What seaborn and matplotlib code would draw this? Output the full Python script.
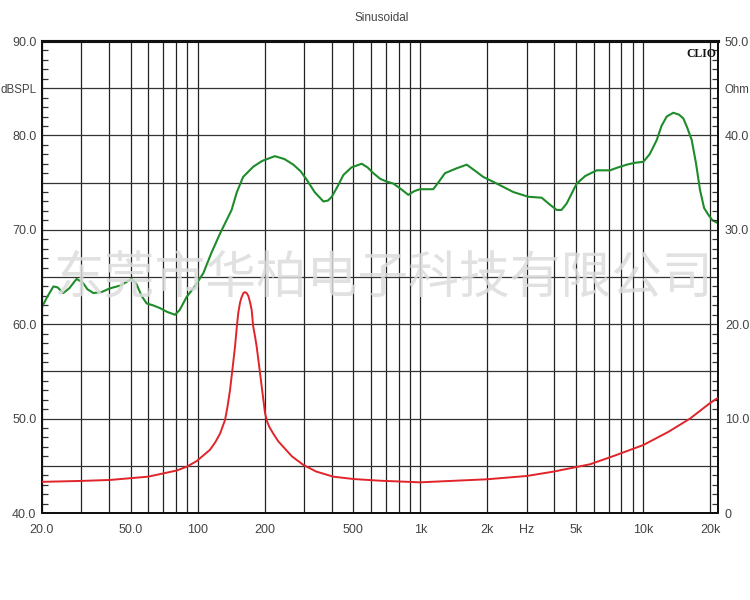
import numpy as np
import pandas as pd
import matplotlib
matplotlib.use("Agg")
import matplotlib.pyplot as plt
from matplotlib.ticker import FixedLocator, NullFormatter
import seaborn as sns

# ---- data ----
spl_freq = [20, 21, 22.5, 23.5, 24.9, 26.5, 28.6, 30.5, 32, 34, 37, 40.4, 45, 50.5, 53, 56,
            59, 63, 67.8, 73, 79.1, 83, 89.3, 97, 106, 115, 126, 142, 150, 160, 178, 195,
            222, 245, 269, 290, 309, 335, 367, 385, 400, 425, 451, 490, 545, 580, 615, 660,
            706, 756, 820, 883, 940, 996, 1143, 1220, 1290, 1450, 1614, 1750, 1916, 2202,
            2614, 3054, 3506, 3800, 4096, 4300, 4542, 5036, 5500, 6192, 7104, 7700, 8444,
            9200, 10024, 10700, 11516, 12100, 12772, 13672, 14500, 15160, 15800, 16540,
            17300, 18020, 18800, 19630, 20500, 21700]
spl_db = [61.8, 62.8, 64.0, 63.9, 63.3, 63.8, 64.8, 64.4, 63.7, 63.3, 63.4, 63.8, 64.1, 64.8,
          64.3, 63.0, 62.2, 62.0, 61.7, 61.3, 61.0, 61.5, 62.9, 64.0, 65.4, 67.5, 69.6, 72.1,
          74.0, 75.6, 76.7, 77.3, 77.8, 77.5, 76.9, 76.2, 75.3, 74.0, 73.0, 73.1, 73.5, 74.6,
          75.8, 76.6, 77.0, 76.6, 76.0, 75.4, 75.1, 74.9, 74.3, 73.7, 74.1, 74.3, 74.3, 75.2,
          76.0, 76.5, 76.9, 76.3, 75.6, 74.9, 74.0, 73.5, 73.4, 72.7, 72.1, 72.1, 72.8, 74.9,
          75.7, 76.3, 76.3, 76.6, 76.9, 77.1, 77.2, 78.0, 79.5, 81.0, 82.0, 82.4, 82.2, 81.8,
          80.8, 79.5, 77.0, 74.2, 72.3, 71.6, 71.0, 70.7]

imp_freq = [20, 30.2, 40.4, 60.0, 80.5, 89.3, 99.0, 113.6, 120, 126, 132.7, 136, 139.7, 143.4,
            147.1, 150, 152.2, 155, 157.7, 160.5, 163.1, 166, 168.8, 172, 174.8, 177.5, 181,
            184.1, 189, 193.9, 200.6, 205, 210, 218.6, 230, 242.5, 265, 298, 340, 406, 500,
            659, 996, 1986, 3002, 3952, 5776, 7500, 10024, 13000, 16244, 20000, 21700]
imp_ohm = [3.3, 3.4, 3.5, 3.85, 4.5, 4.9, 5.5, 6.7, 7.5, 8.4, 9.85, 11.2, 13.0, 15.3,
           17.6, 19.8, 21.2, 22.3, 22.9, 23.3, 23.4, 23.3, 23.0, 22.3, 21.5, 19.8, 18.7,
           17.6, 15.5, 13.4, 10.6, 9.7, 9.1, 8.4, 7.6, 7.0, 6.0, 5.1, 4.4, 3.85, 3.6,
           3.42, 3.25, 3.57, 3.92, 4.38, 5.16, 6.1, 7.2, 8.6, 10.0, 11.65, 12.2]

x_tick_vals = [20, 50, 100, 200, 500, 1000, 2000, 3000, 5000, 10000, 20000]
x_tick_labels = ["20.0", "50.0", "100", "200", "500", "1k", "2k", "Hz", "5k", "10k", "20k"]
left_tick_vals = [40, 45, 50, 55, 60, 65, 70, 75, 80, 85, 90]
left_tick_labels = ["40.0", "", "50.0", "", "60.0", "", "70.0", "", "80.0", "dBSPL", "90.0"]
right_tick_vals = [0, 5, 10, 15, 20, 25, 30, 35, 40, 45, 50]
right_tick_labels = ["0", "", "10.0", "", "20.0", "", "30.0", "", "40.0", "Ohm", "50.0"]
title_text = "Sinusoidal"
watermark = "东莞市华柏电子科技有限公司"

# ---- figure ----
sns.set_style("white")
plt.rcParams['font.family'] = ['Liberation Sans', 'DejaVu Sans']

fig = plt.figure(figsize=(7.5, 6), dpi=100)
ax = fig.add_axes([42/750, 1 - 513/600, (718 - 42)/750, (513 - 41)/600])
ax2 = ax.twinx()

spl_df = pd.DataFrame({"freq": spl_freq, "db": spl_db})
imp_df = pd.DataFrame({"freq": imp_freq, "ohm": imp_ohm})

sns.lineplot(data=spl_df, x="freq", y="db", ax=ax, color="#1e8c2a", linewidth=1.5, zorder=5)
sns.lineplot(data=imp_df, x="freq", y="ohm", ax=ax2, color="#e0242a", linewidth=1.4, zorder=5)

for a in (ax, ax2):
    a.set_xscale("log")
    a.set_xlim(20, 21700)
ax.set_ylim(40, 90)
ax2.set_ylim(0, 50)

# vertical grid lines
grid_x = []
for dec in [10, 100, 1000, 10000]:
    for m in range(1, 10):
        v = m * dec
        if 20 <= v <= 20000:
            grid_x.append(v)
for v in grid_x:
    ax.axvline(v, color="#222222", linewidth=0.9, zorder=1)
for v in left_tick_vals:
    ax.axhline(v, color="#333333", linewidth=0.9, zorder=1)

ax.xaxis.set_major_locator(FixedLocator(x_tick_vals))
ax.xaxis.set_minor_locator(FixedLocator([]))
ax.set_xticklabels(x_tick_labels)
ax.xaxis.set_minor_formatter(NullFormatter())
ax.tick_params(axis="x", length=0, pad=8, labelsize=9, labelcolor="#444444")

ax.set_yticks(left_tick_vals)
ax.set_yticklabels(left_tick_labels)
ax.yaxis.set_minor_locator(FixedLocator(list(range(40, 91))))
ax.tick_params(axis="y", which="major", length=0, pad=4, labelsize=9, labelcolor="#444444")
ax.tick_params(axis="y", which="minor", length=4, direction="in", width=0.9, color="#333333")

ax2.set_yticks(right_tick_vals)
ax2.set_yticklabels(right_tick_labels)
ax2.yaxis.set_minor_locator(FixedLocator(list(range(0, 51))))
ax2.tick_params(axis="y", which="major", length=0, pad=5, labelsize=9, labelcolor="#444444")
ax2.tick_params(axis="y", which="minor", length=4, direction="in", width=0.9, color="#333333")
ax2.tick_params(axis="x", length=0)

# the unit labels are a little smaller so they stay inside the figure
for lbl in ax.get_yticklabels():
    if lbl.get_text() == "dBSPL":
        lbl.set_fontsize(8.3)
for lbl in ax2.get_yticklabels():
    if lbl.get_text() == "Ohm":
        lbl.set_fontsize(8.3)

for a in (ax, ax2):
    a.set_xlabel("")
    a.set_ylabel("")
    for s in a.spines.values():
        s.set_visible(True)
        s.set_color("#111111")
        s.set_linewidth(1.4)
    a.spines["top"].set_linewidth(2.2)

ax2.grid(False)

fig.text(382/750, 1 - 18/600, title_text, ha="center", va="center", fontsize=8.5, color="#444444")
ax2.text(0.997, 0.985, "CLIO", transform=ax2.transAxes, ha="right", va="top",
         fontsize=8.5, fontweight="bold", family=["Liberation Serif", "DejaVu Serif"],
         color="#111111", zorder=10)

fig.text(383/750, 1 - 278/600, watermark, ha="center", va="center", fontsize=36.5,
         family=["Noto Sans CJK SC", "DejaVu Sans"], color="#dcdcdc", alpha=0.85, zorder=20)

fig.savefig("out.png", dpi=100, facecolor="white")
